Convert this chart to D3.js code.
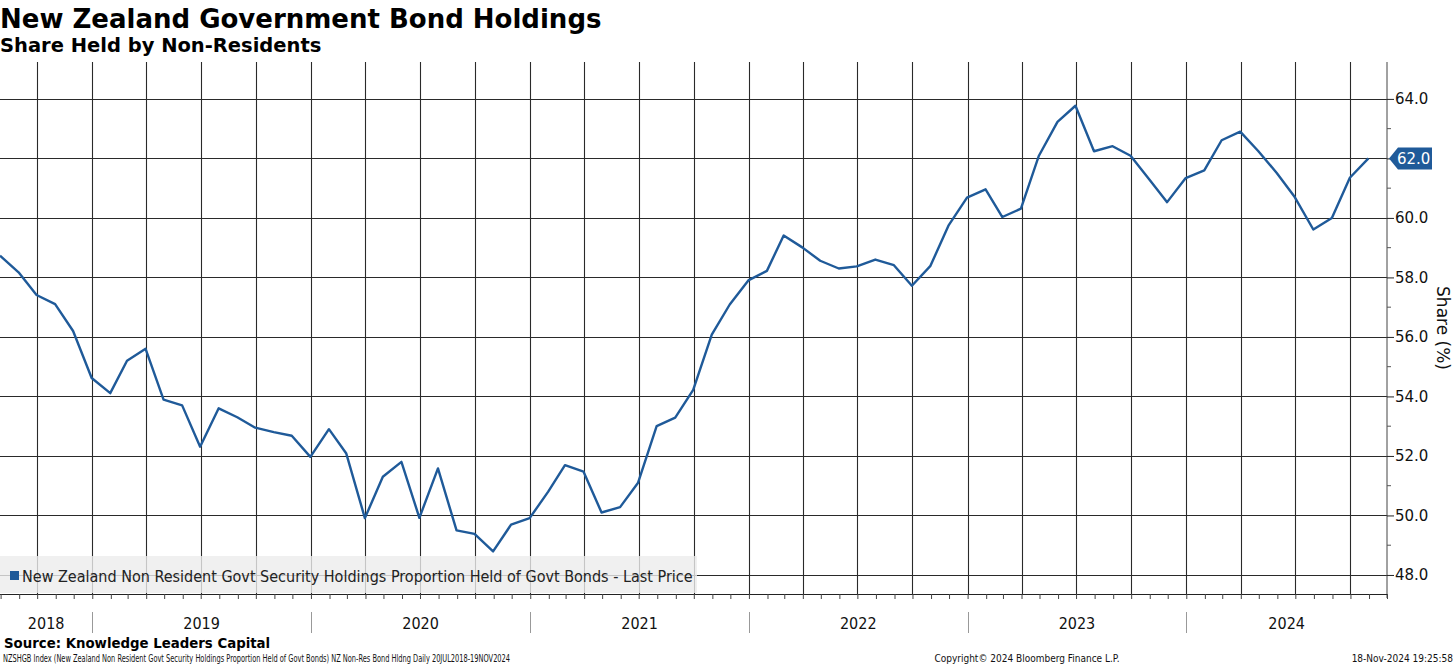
<!DOCTYPE html>
<html>
<head>
<meta charset="utf-8">
<script src="https://cdn.jsdelivr.net/npm/d3@7"></script>
<style>
  body { margin: 0; background: #fff; }
  svg { display: block; font-family: "DejaVu Sans", sans-serif; }
</style>
</head>
<body>
<svg id="chart" width="1456" height="666"></svg>
<script>
// month-end readings, Jul 2018 .. Oct 2024
const firstMonth = "2018-07";
const shareValues = [
    58.73, 58.17, 57.41, 57.10, 56.20, 54.62,
    54.11, 55.20, 55.60, 53.89, 53.70, 52.31, 53.60, 53.30, 52.95, 52.80, 52.68, 51.97,
    52.90, 52.08, 49.91, 51.30, 51.80, 49.92, 51.58, 49.50, 49.38, 48.79, 49.69, 49.91,
    50.80, 51.69, 51.47, 50.10, 50.28, 51.10, 53.00, 53.29, 54.22, 56.08, 57.09, 57.90,
    58.22, 59.41, 59.01, 58.56, 58.30, 58.37, 58.60, 58.41, 57.72, 58.39, 59.74, 60.68,
    60.96, 60.03, 60.31, 62.09, 63.23, 63.77, 62.24, 62.41, 62.09, 61.30, 60.53, 61.34,
    61.60, 62.61, 62.90, 62.25, 61.51, 60.70, 59.61, 60.00, 61.35, 62.00
];
const yTicks = [48, 50, 52, 54, 56, 58, 60, 62, 64];
const yMinorTicks = [49, 51, 53, 55, 57, 59, 61, 63];
const yearLabels = ["2018", "2019", "2020", "2021", "2022", "2023", "2024"];
const lastValue = 62.0;

const titleText = "New Zealand Government Bond Holdings";
const subtitleText = "Share Held by Non-Residents";
const legendText = "New Zealand Non Resident Govt Security Holdings Proportion Held of Govt Bonds - Last Price";
const sourceText = "Source: Knowledge Leaders Capital";
const footLeft = "NZSHGB Index (New Zealand Non Resident Govt Security Holdings Proportion Held of Govt Bonds) NZ Non-Res Bond Hldng  Daily 20JUL2018-19NOV2024";
const footMid = "Copyright\u00A9 2024 Bloomberg Finance L.P.";
const footRight = "18-Nov-2024 19:25:58";

const blue = "#1f5a99";
const plotLeft = 0, plotRight = 1387, plotTop = 62, plotBottom = 594;

const svg = d3.select("#chart");

const start = d3.timeParse("%Y-%m")(firstMonth);
const data = shareValues.map(function (v, i) {
    // plot at the last day of each month
    return { date: d3.timeDay.offset(d3.timeMonth.offset(start, i + 1), -1), value: v };
});

const x = d3.scaleTime().domain([new Date(2018, 6, 31), new Date(2024, 11, 1)]).range([plotLeft, plotRight]);
const y = d3.scaleLinear().domain([47.36, 65.24]).range([plotBottom, plotTop]);

// grid
const grid = svg.append("g");
const quarters = d3.timeMonth.every(3).range(new Date(2018, 7, 1), new Date(2024, 11, 1));
grid.selectAll("line.v").data(quarters).enter().append("line")
    .attr("x1", function (d) { return Math.round(x(d)) + 0.5; })
    .attr("x2", function (d) { return Math.round(x(d)) + 0.5; })
    .attr("y1", plotTop).attr("y2", plotBottom)
    .attr("stroke", "#2a2a2a").attr("stroke-width", 1.1);
grid.selectAll("line.h").data(yTicks).enter().append("line")
    .attr("x1", plotLeft).attr("x2", plotRight)
    .attr("y1", function (d) { return Math.round(y(d)) + 0.5; })
    .attr("y2", function (d) { return Math.round(y(d)) + 0.5; })
    .attr("stroke", "#2a2a2a").attr("stroke-width", 1.1);

// legend box (sits over grid, under the line)
const legend = svg.append("g");
legend.append("rect").attr("x", 0).attr("y", 556).attr("width", 697).attr("height", 37)
    .attr("fill", "#ececec").attr("fill-opacity", 0.8);
legend.append("rect").attr("x", 10).attr("y", 571).attr("width", 9).attr("height", 9).attr("fill", blue);
legend.append("text").attr("x", 22).attr("y", 582)
    .attr("font-family", "'DejaVu Sans Condensed', 'DejaVu Sans', sans-serif")
    .attr("font-size", 16).attr("fill", "#222").text(legendText);

// the series
const line = d3.line().x(function (d) { return x(d.date); }).y(function (d) { return y(d.value); });
svg.append("path").datum(data).attr("d", line)
    .attr("fill", "none").attr("stroke", blue).attr("stroke-width", 2.4).attr("stroke-linejoin", "round");

// right axis
const yAxis = svg.append("g").attr("transform", "translate(" + plotRight + ",0)")
    .call(d3.axisRight(y).tickValues(yTicks).tickFormat(d3.format(".1f")).tickSize(7).tickPadding(1));
yAxis.select(".domain").attr("d", "M0," + plotTop + "V" + (plotBottom + 4)).attr("stroke", "#444");
yAxis.selectAll(".tick line").attr("stroke", "#222");
yAxis.selectAll(".tick text").attr("font-size", 15).attr("font-family", "'DejaVu Sans', sans-serif").attr("fill", "#111");
svg.append("g").selectAll("line").data(yMinorTicks).enter().append("line")
    .attr("x1", plotRight).attr("x2", plotRight + 4)
    .attr("y1", function (d) { return y(d); }).attr("y2", function (d) { return y(d); })
    .attr("stroke", "#555");
svg.append("text").attr("transform", "translate(1437," + ((plotTop + plotBottom) / 2) + ") rotate(90)")
    .attr("text-anchor", "middle").attr("font-size", 17).attr("fill", "#111").text("Share (%)");

// last value tag
const tagY = y(lastValue);
svg.append("path")
    .attr("d", "M" + (plotRight + 2) + "," + tagY + "L" + (plotRight + 11) + "," + (tagY - 11) + "H1432V" + (tagY + 11) + "H" + (plotRight + 11) + "Z")
    .attr("fill", blue);
svg.append("text").attr("x", 1397).attr("y", tagY + 6).attr("font-size", 15).attr("fill", "#fff").text(d3.format(".1f")(lastValue));

// bottom axis with monthly ticks
const xAxis = svg.append("g").attr("transform", "translate(0," + plotBottom + ")")
    .call(d3.axisBottom(x).ticks(d3.timeMonth.every(1)).tickSize(5).tickFormat(""));
xAxis.select(".domain").attr("d", "M0,0.5H" + plotRight).attr("stroke", "#222");
xAxis.selectAll(".tick line").attr("stroke", "#444");

// year separators and labels
const yearStarts = yearLabels.slice(1).map(function (yr) { return new Date(+yr, 0, 1); });
svg.append("g").selectAll("line").data(yearStarts).enter().append("line")
    .attr("x1", function (d) { return Math.round(x(d)) + 0.5; })
    .attr("x2", function (d) { return Math.round(x(d)) + 0.5; })
    .attr("y1", 612).attr("y2", 633).attr("stroke", "#999");
svg.append("g").selectAll("text").data(yearLabels).enter().append("text")
    .attr("x", function (d) {
        const a = Math.max(plotLeft, x(new Date(+d, 0, 1)));
        const b = Math.min(plotRight, x(new Date(+d + 1, 0, 1)));
        return (a + b) / 2;
    })
    .attr("y", 629).attr("text-anchor", "middle")
    .attr("font-family", "'DejaVu Sans Condensed', 'DejaVu Sans', sans-serif")
    .attr("font-size", 16).attr("fill", "#111").text(function (d) { return d; });

// titles
svg.append("text").attr("x", 0).attr("y", 28).attr("font-size", 26).attr("font-weight", "bold").attr("fill", "#000").text(titleText);
svg.append("text").attr("x", 0).attr("y", 52).attr("font-size", 19.5).attr("font-weight", "bold").attr("fill", "#000").text(subtitleText);

// footer
svg.append("text").attr("x", 4).attr("y", 648).attr("font-size", 14.8).attr("font-weight", "bold")
    .attr("font-family", "'DejaVu Sans Condensed', 'DejaVu Sans', sans-serif").text(sourceText);
const foot = svg.append("g").attr("font-family", "'DejaVu Sans Condensed', 'DejaVu Sans', sans-serif").attr("font-size", 10).attr("fill", "#111");
foot.append("text").attr("x", 3).attr("y", 662).attr("textLength", 507).attr("lengthAdjust", "spacingAndGlyphs").text(footLeft);
foot.append("text").attr("x", 1027).attr("y", 662).attr("text-anchor", "middle").text(footMid);
foot.append("text").attr("x", 1453).attr("y", 662).attr("text-anchor", "end").text(footRight);
</script>
</body>
</html>
